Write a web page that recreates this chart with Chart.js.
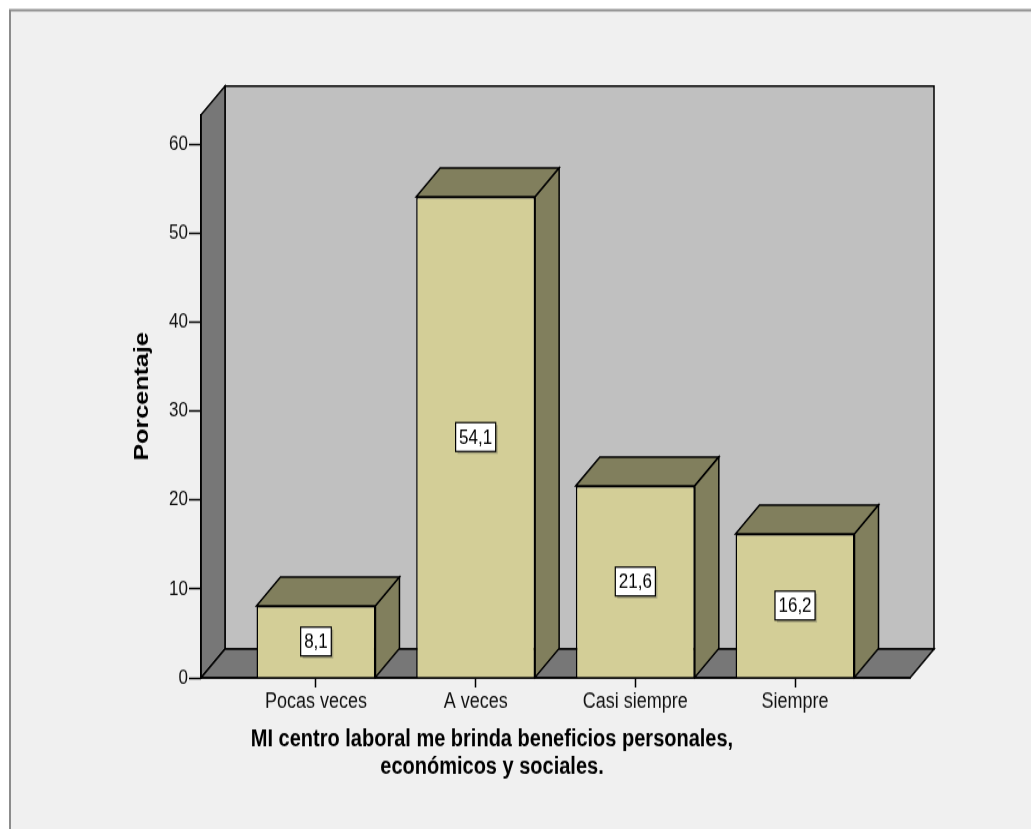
<!DOCTYPE html>
<html>
<head>
<meta charset="utf-8">
<script src="https://cdn.jsdelivr.net/npm/chart.js@4/dist/chart.umd.min.js"></script>
<style>
  html, body { margin: 0; padding: 0; background: #ffffff; }
</style>
</head>
<body>
<!-- SPSS output is a bit taller than wide, so the canvas is stretched vertically -->
<canvas id="chart" width="1031" height="691" style="width:1031px;height:829px;"></canvas>
<script>
// Categorías
const categories = ['Pocas veces', 'A veces', 'Casi siempre', 'Siempre'];
// Porcentajes
const percentages = [8.1, 54.1, 21.6, 16.2];
// Marcas del eje Y
const yTicks = [0, 10, 20, 30, 40, 50, 60];

const titleLines = ['MI centro laboral me brinda beneficios personales,', 'económicos y sociales.'];

const depth = 24;
const fontFamily = '"Liberation Sans", Arial, sans-serif';

Chart.defaults.font.family = fontFamily;

function poly(ctx, pts, fill) {
  ctx.beginPath();
  ctx.moveTo(pts[0][0], pts[0][1]);
  for (let i = 1; i < pts.length; i++) ctx.lineTo(pts[i][0], pts[i][1]);
  ctx.closePath();
  ctx.fillStyle = fill;
  ctx.fill();
  ctx.stroke();
}

const fmt = v => v.toFixed(1).replace('.', ',');

// Marco, paredes y suelo en 3D
const box3d = {
  id: 'box3d',
  beforeDraw(chart) {
    const { ctx, chartArea: a } = chart;
    ctx.save();
    ctx.fillStyle = '#f0f0f0';
    ctx.fillRect(10, 8.5, chart.width, chart.height);
    ctx.strokeStyle = '#8c8c8c';
    ctx.lineWidth = 2;
    ctx.strokeRect(10, 8.5, chart.width, chart.height);

    ctx.strokeStyle = '#000';
    ctx.lineWidth = 1.5;
    ctx.lineJoin = 'miter';
    poly(ctx, [[a.left + depth, a.top - depth], [a.right + depth, a.top - depth],
               [a.right + depth, a.bottom - depth], [a.left + depth, a.bottom - depth]], '#c0c0c0');
    poly(ctx, [[a.left, a.top], [a.left + depth, a.top - depth],
               [a.left + depth, a.bottom - depth], [a.left, a.bottom]], '#777777');
    poly(ctx, [[a.left, a.bottom], [a.right, a.bottom],
               [a.right + depth, a.bottom - depth], [a.left + depth, a.bottom - depth]], '#777777');
    ctx.restore();
  },
  // caras superior y lateral de cada barra + etiqueta de valor
  afterDatasetsDraw(chart) {
    const { ctx } = chart;
    const meta = chart.getDatasetMeta(0);
    ctx.save();
    ctx.strokeStyle = '#000';
    ctx.lineWidth = 1.5;
    meta.data.forEach((bar, i) => {
      const { x, y, base, width } = bar.getProps(['x', 'y', 'base', 'width'], true);
      const l = x - width / 2, r = x + width / 2;
      poly(ctx, [[l, y], [l + depth, y - depth], [r + depth, y - depth], [r, y]], '#817f5d');
      poly(ctx, [[r, y], [r + depth, y - depth], [r + depth, base - depth], [r, base]], '#817f5d');

      const text = fmt(percentages[i]);
      ctx.font = '17px ' + fontFamily;
      const tw = ctx.measureText(text).width;
      const bw = tw + 7, bh = 24;
      const cy = (y + base) / 2;
      ctx.fillStyle = 'rgba(110,110,90,0.45)';
      ctx.fillRect(x - bw / 2 + 2, cy - bh / 2 + 2, bw, bh);
      ctx.fillStyle = '#ffffff';
      ctx.fillRect(x - bw / 2, cy - bh / 2, bw, bh);
      ctx.lineWidth = 1.2;
      ctx.strokeRect(x - bw / 2, cy - bh / 2, bw, bh);
      ctx.lineWidth = 1.5;
      ctx.fillStyle = '#000';
      ctx.textAlign = 'center';
      ctx.textBaseline = 'middle';
      ctx.fillText(text, x, cy + 1);
    });
    ctx.restore();
  }
};

new Chart(document.getElementById('chart'), {
  type: 'bar',
  data: {
    datasets: [{
      data: percentages.map((v, i) => ({ x: i, y: v })),
      backgroundColor: '#d3ce97',
      borderColor: '#000',
      borderWidth: 1.5,
      barPercentage: 0.745,
      categoryPercentage: 1
    }]
  },
  options: {
    responsive: false,
    animation: false,
    devicePixelRatio: 1,
    layout: { padding: { left: 74, top: 95.8, right: 121, bottom: 40.5 } },
    scales: {
      x: {
        type: 'linear',
        offset: false,
        min: -0.72,
        max: 3.72,
        afterBuildTicks: s => { s.ticks = categories.map((c, i) => ({ value: i })); },
        afterFit: s => { s.height = 35; },
        grid: { offset: false, drawOnChartArea: false, tickLength: 8, tickColor: '#000', tickWidth: 1.5 },
        border: { color: '#000', width: 1.5 },
        ticks: {
          padding: 1,
          color: '#111',
          font: { size: 18 },
          autoSkip: false,
          maxRotation: 0,
          callback: v => categories[v]
        }
      },
      y: {
        min: 0,
        max: 63.3,
        afterBuildTicks: s => { s.ticks = yTicks.map(v => ({ value: v })); },
        afterFit: s => { s.width = 127; },
        grid: { drawOnChartArea: false, tickLength: 12, tickColor: '#000', tickWidth: 1.5 },
        border: { color: '#000', width: 1.5 },
        ticks: { padding: 1, color: '#111', font: { size: 17 } },
        title: {
          display: true,
          text: 'Porcentaje',
          color: '#000',
          font: { size: 21, weight: 'bold' },
          padding: { top: 56, bottom: 0 }
        }
      }
    },
    plugins: {
      legend: { display: false },
      tooltip: { enabled: false },
      title: {
        display: true,
        position: 'bottom',
        text: titleLines,
        color: '#000',
        font: { size: 20, weight: 'bold', lineHeight: 1.125 },
        padding: { top: 5.5, bottom: 0 }
      }
    }
  },
  plugins: [box3d]
});
</script>
</body>
</html>
